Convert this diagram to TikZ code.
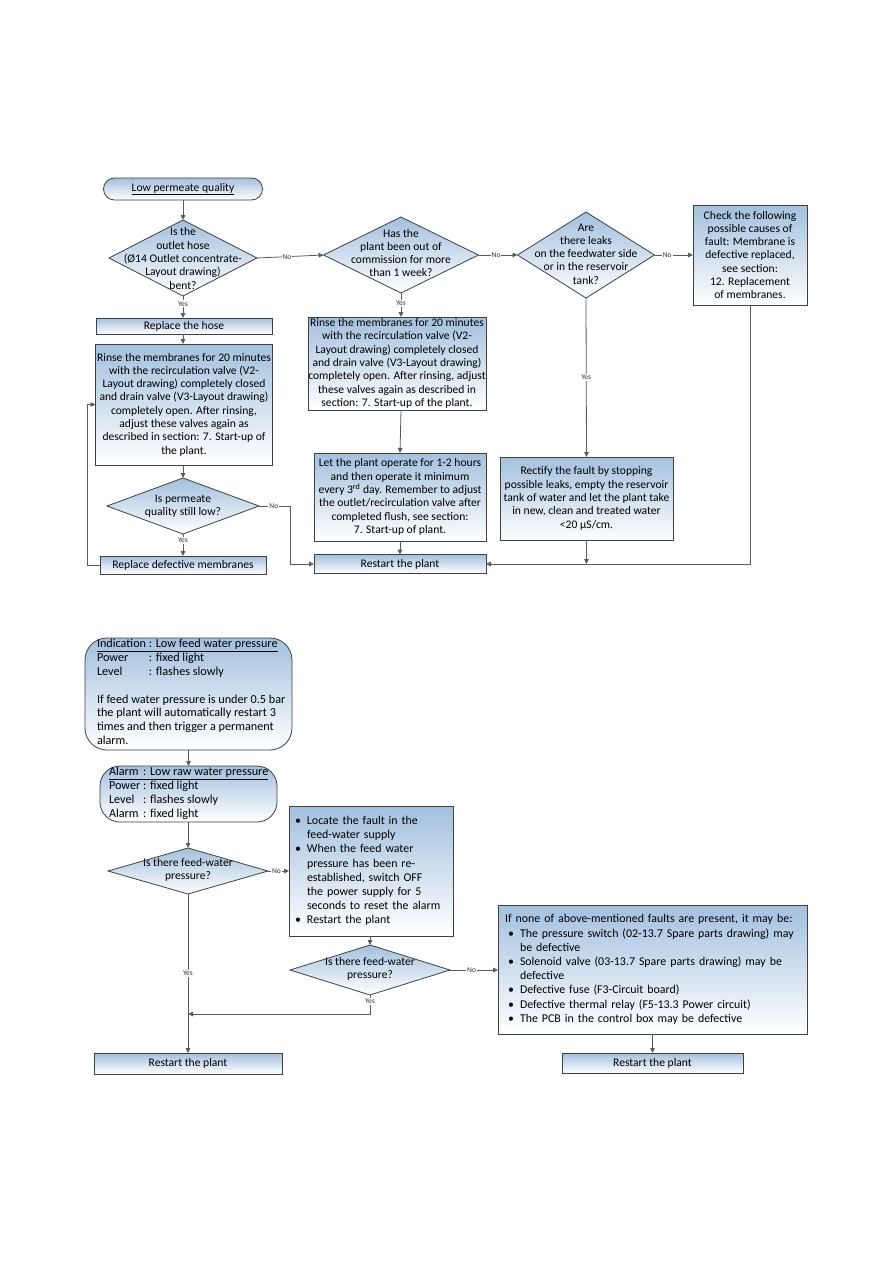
\documentclass[tikz,border=0pt]{standalone}
\usepackage{fontspec}
\setmainfont{Carlito}
\usetikzlibrary{shapes.geometric,arrows.meta}
\definecolor{boxtop}{RGB}{162,192,222}
\definecolor{bordc}{RGB}{64,64,64}
\definecolor{linec}{RGB}{90,90,90}
\begin{document}
\begin{tikzpicture}[x=1pt,y=-1pt,
 every node/.style={inner sep=0pt, outer sep=0pt},
 ft/.style={font=\fontsize{11.6}{13.3}\selectfont},
 fb/.style={font=\fontsize{11.9}{14.2}\selectfont},
 fi/.style={font=\fontsize{12.2}{13.9}\selectfont},
 grad/.style={top color=boxtop, bottom color=white},
 bx/.style={draw=bordc, line width=0.8pt, grad, rectangle, align=center},
 dia/.style={draw=bordc, line width=0.8pt, grad, diamond},
 arr/.style={draw=linec, line width=0.8pt, -{Triangle[length=5pt,width=4.5pt]}},
 ln/.style={draw=linec, line width=0.8pt},
 lab/.style={font=\fontsize{7.5}{8}\selectfont, fill=white, inner sep=1pt, text=black!80},
]
\path[use as bounding box, fill=white] (0,0) rectangle (893,1263);

% ---------------- top flowchart ----------------
\node[bx, ft, rounded corners=11pt, minimum width=159pt, minimum height=22pt] (start) at (183,189) {\underline{Low permeate quality}};

\node[dia, minimum width=148pt, minimum height=76pt] (d1) at (183,258) {};
\node[ft, align=center] (d1t) at (183,258.5) {Is the\\outlet hose\\(Ø14 Outlet concentrate-\\Layout drawing)\\bent?};

\node[dia, minimum width=155pt, minimum height=76pt] (d2) at (401,255) {};
\node[ft, align=center] (d2t) at (401,253) {Has the\\plant been out of\\commission for more\\than 1 week?};

\node[dia, minimum width=137pt, minimum height=86pt] (d3) at (586,255) {};
\node[ft, align=center] (d3t) at (586,254) {Are\\there leaks\\on the feedwater side\\or in the reservoir\\tank?};

\node[bx, ft, minimum width=114pt, minimum height=100pt] (b4) at (750,255) {Check the following\\possible causes of\\fault: Membrane is\\defective replaced,\\see section:\\12. Replacement\\of membranes.};

\node[bx, ft, minimum width=176pt, minimum height=16pt] (hose) at (184,326) {Replace the hose};

\node[bx, ft, minimum width=177pt, minimum height=121pt] (r1) at (184,404.5) {Rinse the membranes for 20 minutes\\with the recirculation valve (V2-\\Layout drawing) completely closed\\and drain valve (V3-Layout drawing)\\completely open. After rinsing,\\adjust these valves again as\\described in section: 7. Start-up of\\the plant.};

\node[dia, minimum width=152pt, minimum height=56pt] (d4) at (183,506) {};
\node[ft, align=center] (d4t) at (183,506) {Is permeate\\quality still low?};

\node[bx, ft, minimum width=166pt, minimum height=18pt] (rdm) at (183,565) {Replace defective membranes};

\node[bx, ft, minimum width=178pt, minimum height=93pt] (r2) at (397,363.5) {Rinse the membranes for 20 minutes\\with the recirculation valve (V2-\\Layout drawing) completely closed\\and drain valve (V3-Layout drawing)\\completely open. After rinsing, adjust\\these valves again as described in\\section: 7. Start-up of the plant.};

\node[bx, ft, minimum width=172pt, minimum height=88pt] (let) at (400,497) {Let the plant operate for 1-2 hours\\and then operate it minimum\\every 3\textsuperscript{rd} day. Remember to adjust\\the outlet/recirculation valve after\\completed flush, see section:\\7. Start-up of plant.};

\node[bx, ft, minimum width=172pt, minimum height=19pt] (rs1) at (400,564) {Restart the plant};

\node[bx, ft, minimum width=173pt, minimum height=83pt] (rect) at (586.5,498.5) {Rectify the fault by stopping\\possible leaks, empty the reservoir\\tank of water and let the plant take\\in new, clean and treated water\\<20 µS/cm.};

\coordinate (lx) at (87,0);
\coordinate (nx) at (290,0);

\draw[arr] (start.south) -- (d1.north);
\draw[arr] (d1.east) -- node[lab,pos=0.45]{No} (d2.west);
\draw[arr] (d2.east) -- node[lab,pos=0.45]{No} (d3.west);
\draw[arr] (d3.east) -- node[lab,pos=0.33]{No} (b4.west);
\draw[arr] (d1.south) -- node[lab,pos=0.36]{Yes} (d1.south |- hose.north);
\draw[arr] (d1.south |- hose.south) -- (d1.south |- r1.north);
\draw[arr] (d1.south |- r1.south) -- (d4.north);
\draw[arr] (d4.south) -- node[lab,pos=0.3]{Yes} (d4.south |- rdm.north);
\draw[arr] (rdm.west) -| (lx |- r1.west) -- (r1.west);
\draw[arr] (d4.east) -- node[lab,pos=0.48]{No} (d4.east -| nx) |- (rs1.west);
\draw[arr] (d2.south) -- node[lab,pos=0.42]{Yes} (d2.south |- r2.north);
\draw[arr] (d2.south |- r2.south) -- (let.north);
\draw[arr] (let.south) -- (rs1.north);
\draw[arr] (d3.south) -- node[lab,pos=0.5]{Yes} (rect.north);
\draw[arr] (b4.south) |- (rs1.east);
\draw[arr] (rect.south) -- (rect.south |- rs1.east);

% ---------------- bottom flowchart ----------------
\node[draw=bordc, line width=0.8pt, grad, rounded corners=22pt, minimum width=207pt, minimum height=112pt] (ind) at (188.5,694) {};
\node[fi, align=left, anchor=north west] (indt) at (97,639) {\underline{Indication : Low feed water pressure}\\
\rlap{Power}\phantom{Indication }: fixed light\\
\rlap{Level}\phantom{Indication }: flashes slowly\\
\mbox{}\\
If feed water pressure is under 0.5 bar\\
the plant will automatically restart 3\\
times and then trigger a permanent\\
alarm.};

\node[draw=bordc, line width=0.8pt, grad, rounded corners=20pt, minimum width=177pt, minimum height=56pt] (al) at (188.5,794) {};
\node[fi, align=left, anchor=north west] (alt) at (109,767) {\underline{\rlap{Alarm}\phantom{Power }: Low raw water pressure}\\
Power : fixed light\\
\rlap{Level}\phantom{Power }: flashes slowly\\
\rlap{Alarm}\phantom{Power }: fixed light};

\node[dia, minimum width=160pt, minimum height=46pt] (d5) at (188,871) {};
\node[ft, align=center] (d5t) at (188,870) {Is there feed-water\\pressure?};

\node[bx, fb, align=left, text width=152pt, inner xsep=6pt, minimum height=130pt] (loc) at (371,871) {\makebox[12pt][l]{\textbullet}Locate the fault in the\\
\hspace*{12pt}feed-water supply\\
\makebox[12pt][l]{\textbullet}When the feed water\\
\hspace*{12pt}pressure has been re-\\
\hspace*{12pt}established, switch OFF\\
\hspace*{12pt}the power supply for 5\\
\hspace*{12pt}seconds to reset the alarm\\
\makebox[12pt][l]{\textbullet}Restart the plant};

\node[dia, minimum width=160pt, minimum height=50pt] (d6) at (370,970) {};
\node[ft, align=center] (d6t) at (370,969) {Is there feed-water\\pressure?};

\node[bx, fb, align=left, text width=295pt, inner xsep=7pt, minimum height=129pt] (b7) at (652.5,969.5) {If none of above-mentioned faults are present, it may be:\\
\hspace*{3pt}\makebox[12pt][l]{\textbullet}The pressure switch (02-13.7 Spare parts drawing) may\\
\hspace*{15pt}be defective\\
\hspace*{3pt}\makebox[12pt][l]{\textbullet}Solenoid valve (03-13.7 Spare parts drawing) may be\\
\hspace*{15pt}defective\\
\hspace*{3pt}\makebox[12pt][l]{\textbullet}Defective fuse (F3-Circuit board)\\
\hspace*{3pt}\makebox[12pt][l]{\textbullet}Defective thermal relay (F5-13.3 Power circuit)\\
\hspace*{3pt}\makebox[12pt][l]{\textbullet}The PCB in the control box may be defective};

\node[bx, ft, minimum width=188pt, minimum height=21pt] (rs2) at (188,1063.5) {Restart the plant};
\node[bx, ft, minimum width=181pt, minimum height=20pt] (rs3) at (652.5,1063) {Restart the plant};

\coordinate (yj) at (188,1014);

\draw[arr] (ind.south) -- (al.north -| ind.south);
\draw[arr] (al.south -| d5.north) -- (d5.north);
\draw[arr] (d5.east) -- node[lab,pos=0.4]{No} (d5.east -| loc.west);
\draw[arr] (d6.north |- loc.south) -- (d6.north);
\draw[arr] (d6.east) -- node[lab,pos=0.45]{No} (d6.east -| b7.west);
\draw[arr] (d6.south) |- node[lab,pos=0.16]{Yes} (yj);
\draw[arr] (d5.south) -- node[lab,pos=0.5]{Yes} (rs2.north);
\draw[arr] (b7.south -| rs3.north) -- (rs3.north);
\end{tikzpicture}
\end{document}
